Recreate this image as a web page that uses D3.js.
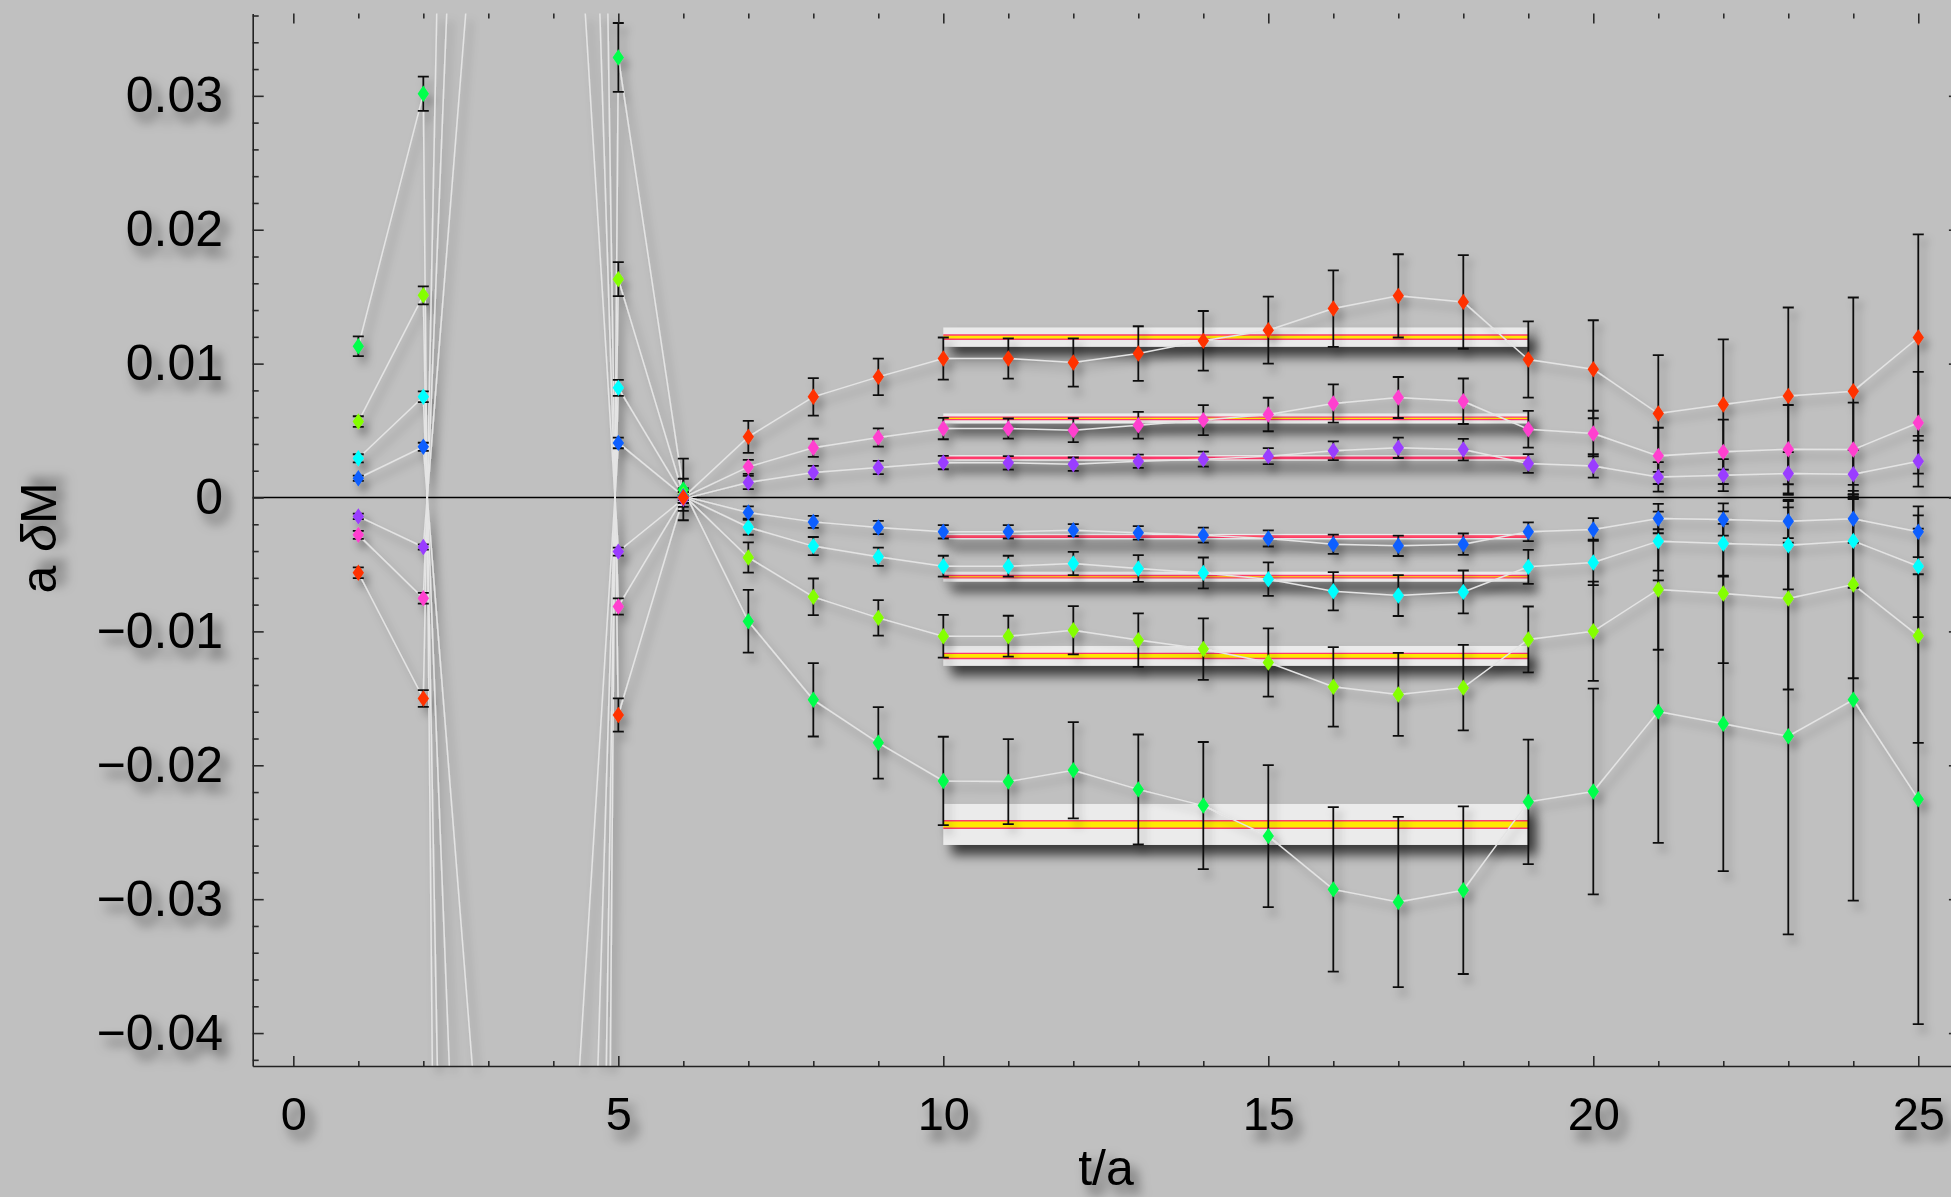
<!DOCTYPE html>
<html>
<head>
<meta charset="utf-8">
<script src="https://cdn.jsdelivr.net/npm/d3@7"></script>
<style>
  html, body { margin: 0; padding: 0; background: #c0c0c0; }
  svg { display: block; }
</style>
</head>
<body>
<svg id="chart"></svg>
<script>
// time slices
const tValues = d3.range(1, 26)

// central values per series (t = 1 .. 25); t = 3, 4 lie far off the frame
const greenValues = [0.0113, 0.03015, -0.495, -0.58, 0.03287, 0.0006, -0.00924, -0.01511, -0.01832, -0.02117, -0.02122, -0.02037, -0.0218, -0.02301, -0.02529, -0.02927, -0.03021, -0.02933, -0.02273, -0.02196, -0.01599, -0.0169, -0.01783, -0.01511, -0.02253]
const greenErrors = [0.00074, 0.00128, 0.01, 0.01, 0.00257, 0.0023, 0.00234, 0.00274, 0.00267, 0.0033, 0.00317, 0.0036, 0.0041, 0.00475, 0.0053, 0.00614, 0.00636, 0.00626, 0.00465, 0.00768, 0.0098, 0.011, 0.0148, 0.015, 0.0168]

const ygValues = [0.00567, 0.0151, -0.252, -0.302, 0.01631, 0.0002, -0.00448, -0.00742, -0.00899, -0.01036, -0.01036, -0.00991, -0.01065, -0.01132, -0.01232, -0.01414, -0.01471, -0.0142, -0.0106, -0.00999, -0.00687, -0.00717, -0.00754, -0.0065, -0.01033]
const ygErrors = [0.0004, 0.00067, 0.01, 0.01, 0.00127, 0.0012, 0.00113, 0.00137, 0.00133, 0.0016, 0.00153, 0.0018, 0.002, 0.0023, 0.00255, 0.00297, 0.0031, 0.0032, 0.00246, 0.0037, 0.0045, 0.0052, 0.0068, 0.007, 0.008]

const cyanValues = [0.00293, 0.00753, -0.1175, -0.153, 0.00819, 0.0001, -0.00222, -0.00363, -0.00443, -0.00513, -0.00513, -0.00493, -0.0053, -0.00563, -0.0061, -0.007, -0.00732, -0.00705, -0.00518, -0.00485, -0.00326, -0.00344, -0.00356, -0.00324, -0.00513]
const cyanErrors = [0.0003, 0.0004, 0.01, 0.01, 0.0006, 0.0005, 0.00056, 0.00068, 0.00068, 0.00078, 0.00078, 0.00087, 0.001, 0.00115, 0.00125, 0.00143, 0.00153, 0.0016, 0.00127, 0.0017, 0.0022, 0.0024, 0.0033, 0.0035, 0.0038]

const blueValues = [0.00144, 0.00379, -0.0576, -0.074, 0.00408, 0.0001, -0.00112, -0.00182, -0.00224, -0.00256, -0.00256, -0.00244, -0.00264, -0.00281, -0.00306, -0.00349, -0.00361, -0.00349, -0.00256, -0.00239, -0.00157, -0.00164, -0.00177, -0.00159, -0.00256]
const blueErrors = [0.0002, 0.0003, 0.01, 0.01, 0.0004, 0.0003, 0.00046, 0.00045, 0.0005, 0.0005, 0.0005, 0.00045, 0.0005, 0.00056, 0.0006, 0.00072, 0.00076, 0.0008, 0.0007, 0.00085, 0.0011, 0.0012, 0.0016, 0.0018, 0.0019]

const purpleValues = [-0.00141, -0.0037, 0.0574, 0.075, -0.00404, -0.0001, 0.00112, 0.00187, 0.00224, 0.00261, 0.00259, 0.00249, 0.00271, 0.00286, 0.00309, 0.00349, 0.00371, 0.00358, 0.00254, 0.00236, 0.00154, 0.00167, 0.00179, 0.00174, 0.00271]
const purpleErrors = [0.0002, 0.0002, 0.01, 0.01, 0.0003, 0.0003, 0.0005, 0.0005, 0.0005, 0.0005, 0.0005, 0.0005, 0.0005, 0.00056, 0.0006, 0.0007, 0.00076, 0.0008, 0.0007, 0.00088, 0.0011, 0.0012, 0.0016, 0.0018, 0.0019]

const magentaValues = [-0.00279, -0.00753, 0.1138, 0.148, -0.00814, 0.0, 0.00229, 0.00371, 0.00448, 0.00515, 0.00515, 0.00503, 0.0054, 0.00578, 0.0062, 0.00702, 0.00747, 0.00719, 0.0051, 0.00478, 0.00311, 0.00341, 0.00361, 0.00358, 0.00558]
const magentaErrors = [0.0003, 0.0004, 0.01, 0.01, 0.0006, 0.0004, 0.00052, 0.00068, 0.00068, 0.0008, 0.00075, 0.0009, 0.001, 0.00112, 0.00125, 0.00143, 0.00153, 0.0017, 0.00137, 0.0017, 0.0021, 0.0024, 0.0033, 0.0035, 0.0038]

const redValues = [-0.00562, -0.01501, 0.233, 0.31, -0.01624, 0.0, 0.00453, 0.00752, 0.00901, 0.01038, 0.01038, 0.01008, 0.01075, 0.0117, 0.0125, 0.01411, 0.01506, 0.01461, 0.01031, 0.00958, 0.00627, 0.00695, 0.00759, 0.00794, 0.01195]
const redErrors = [0.0004, 0.00063, 0.01, 0.01, 0.00124, 0.0007, 0.0012, 0.0014, 0.00137, 0.00157, 0.0015, 0.0018, 0.00204, 0.00223, 0.0025, 0.00286, 0.00311, 0.0035, 0.00285, 0.00366, 0.00436, 0.00486, 0.0066, 0.007, 0.0077]

const seriesColors = ['#00ff4c', '#84ff00', '#00ffff', '#0a5fff', '#9a3cff', '#ff40cf', '#ff3300']

// plateau fits over t = 10 .. 19 (same series order)
const fitRange = [10, 19]
const fitCenters = [-0.02442, -0.01183, -0.00591, -0.00292, 0.00296, 0.00591, 0.01198]
const fitInner = [0.00028, 0.00019, 0.00009, 0.00005, 0.00005, 0.00009, 0.00016]
const fitOuter = [0.00153, 0.00074, 0.00037, 0.0002, 0.00021, 0.00037, 0.00072]

// axis ticks
const xTicks = [0, 5, 10, 15, 20, 25]
const xMinorTicks = d3.range(0, 26).filter((t) => t % 5 !== 0)
const yTicks = [-0.04, -0.03, -0.02, -0.01, 0, 0.01, 0.02, 0.03]
const yMinorTicks = d3.range(-42, 37, 2).filter((v) => v % 10 !== 0).map((v) => v / 1000)

const W = 1951
const H = 1197

const x = d3.scaleLinear().domain([-0.625, 25.625]).range([252.7, 1958.9])
const y = d3.scaleLinear().domain([-0.04246, 0.03615]).range([1066, 13.5])

const svg = d3.select('#chart').attr('width', W).attr('height', H)
svg.append('rect').attr('width', W).attr('height', H).attr('fill', '#c0c0c0')

const defs = svg.append('defs')
defs
  .append('clipPath')
  .attr('id', 'plot-clip')
  .append('rect')
  .attr('x', x.range()[0])
  .attr('y', y.range()[1])
  .attr('width', x.range()[1] - x.range()[0])
  .attr('height', y.range()[0] - y.range()[1])

function addShadow(id, dx, dy, sd, op, userSpace) {
  const f = defs.append('filter').attr('id', id)
  if (userSpace) {
    f.attr('filterUnits', 'userSpaceOnUse')
      .attr('x', 0)
      .attr('y', 0)
      .attr('width', W)
      .attr('height', H)
  } else {
    f.attr('x', '-60%').attr('y', '-60%').attr('width', '220%').attr('height', '220%')
  }
  f.append('feDropShadow')
    .attr('dx', dx)
    .attr('dy', dy)
    .attr('stdDeviation', sd)
    .attr('flood-color', '#000')
    .attr('flood-opacity', op)
}
addShadow('shadow-data', 5, 7, 4, 0.35, true)
addShadow('shadow-band', 8, 10, 6, 0.7, true)
addShadow('shadow-text', 7, 9, 6, 0.55, false)

const font = '"Liberation Sans", Arial, Helvetica, sans-serif'

// zero line
svg
  .append('line')
  .attr('x1', x.range()[0])
  .attr('x2', x.range()[1])
  .attr('y1', y(0))
  .attr('y2', y(0))
  .attr('stroke', '#000')
  .attr('stroke-width', 1.3)

// fit bands
const bands = svg.append('g').attr('clip-path', 'url(#plot-clip)')
fitCenters.forEach((c, i) => {
  bands
    .append('rect')
    .attr('x', x(fitRange[0]))
    .attr('width', x(fitRange[1]) - x(fitRange[0]))
    .attr('y', y(c + fitOuter[i]))
    .attr('height', y(c - fitOuter[i]) - y(c + fitOuter[i]))
    .attr('fill', '#ebebeb')
    .attr('filter', 'url(#shadow-band)')
  bands
    .append('rect')
    .attr('x', x(fitRange[0]))
    .attr('width', x(fitRange[1]) - x(fitRange[0]))
    .attr('y', y(c + fitInner[i]))
    .attr('height', y(c - fitInner[i]) - y(c + fitInner[i]))
    .attr('fill', '#ffe800')
  ;[c + fitInner[i], c - fitInner[i]].forEach((v) => {
    bands
      .append('line')
      .attr('x1', x(fitRange[0]))
      .attr('x2', x(fitRange[1]))
      .attr('y1', y(v))
      .attr('y2', y(v))
      .attr('stroke', '#ff3a6c')
      .attr('stroke-width', 1.4)
  })
})

// data
const series = [
  [greenValues, greenErrors],
  [ygValues, ygErrors],
  [cyanValues, cyanErrors],
  [blueValues, blueErrors],
  [purpleValues, purpleErrors],
  [magentaValues, magentaErrors],
  [redValues, redErrors],
].map(([vals, errs], i) => ({
  color: seriesColors[i],
  points: tValues.map((t, j) => ({ t, v: vals[j], e: errs[j] })),
}))

const dataOuter = svg.append('g').attr('filter', 'url(#shadow-data)')
const data = dataOuter.append('g').attr('clip-path', 'url(#plot-clip)')

const line = d3
  .line()
  .x((d) => x(d.t))
  .y((d) => y(d.v))

data
  .selectAll('.conn')
  .data(series)
  .enter()
  .append('path')
  .attr('class', 'conn')
  .attr('d', (s) => line(s.points))
  .attr('fill', 'none')
  .attr('stroke', '#e4e4e4')
  .attr('stroke-width', 1.5)

const capW = 5.5
series.forEach((s) => {
  const g = data.append('g')
  const bars = g
    .selectAll('.bar')
    .data(s.points)
    .enter()
    .append('g')
    .attr('class', 'bar')
    .attr('stroke', '#111')
    .attr('stroke-width', 1.8)
  bars
    .append('line')
    .attr('x1', (d) => x(d.t))
    .attr('x2', (d) => x(d.t))
    .attr('y1', (d) => y(d.v + d.e))
    .attr('y2', (d) => y(d.v - d.e))
  bars
    .append('line')
    .attr('x1', (d) => x(d.t) - capW)
    .attr('x2', (d) => x(d.t) + capW)
    .attr('y1', (d) => y(d.v + d.e))
    .attr('y2', (d) => y(d.v + d.e))
  bars
    .append('line')
    .attr('x1', (d) => x(d.t) - capW)
    .attr('x2', (d) => x(d.t) + capW)
    .attr('y1', (d) => y(d.v - d.e))
    .attr('y2', (d) => y(d.v - d.e))
})

const diamond = d3.symbol(d3.symbolDiamond).size(78)
series.forEach((s) => {
  data
    .append('g')
    .selectAll('path')
    .data(s.points)
    .enter()
    .append('path')
    .attr('d', diamond)
    .attr('transform', (d) => `translate(${x(d.t)},${y(d.v)}) scale(1.2,1)`)
    .attr('fill', s.color)
})

// axes
function styleAxis(g, withText) {
  g.attr('font-family', font)
  g.select('.domain').attr('stroke', '#222').attr('stroke-width', 1.6)
  g.selectAll('.tick line').attr('stroke', '#2a2a2a').attr('stroke-width', 1.6)
  if (withText) {
    g.selectAll('.tick text').attr('fill', '#000').attr('filter', 'url(#shadow-text)')
  }
}

const yFormat = (v) => (v === 0 ? '0' : d3.format('.2f')(v))

const gxMinor = svg
  .append('g')
  .attr('transform', `translate(0,${y.range()[0]})`)
  .call(d3.axisBottom(x).tickValues(xMinorTicks).tickSize(-5).tickFormat(''))
gxMinor.select('.domain').remove()
styleAxis(gxMinor, false)

const gx = svg
  .append('g')
  .attr('transform', `translate(0,${y.range()[0]})`)
  .call(
    d3
      .axisBottom(x)
      .tickValues(xTicks)
      .tickSize(-10)
      .tickSizeOuter(0)
      .tickPadding(31)
      .tickFormat(d3.format('d'))
  )
  .attr('font-size', 47)
styleAxis(gx, true)

const gTopMinor = svg
  .append('g')
  .attr('transform', `translate(0,${y.range()[1]})`)
  .call(d3.axisTop(x).tickValues(xMinorTicks).tickSize(-5).tickFormat(''))
gTopMinor.select('.domain').remove()
styleAxis(gTopMinor, false)

const gTop = svg
  .append('g')
  .attr('transform', `translate(0,${y.range()[1]})`)
  .call(d3.axisTop(x).tickValues(xTicks).tickSize(-10).tickFormat(''))
gTop.select('.domain').remove()
styleAxis(gTop, false)

const gyMinor = svg
  .append('g')
  .attr('transform', `translate(${x.range()[0]},0)`)
  .call(d3.axisLeft(y).tickValues(yMinorTicks).tickSize(-6).tickFormat(''))
gyMinor.select('.domain').remove()
styleAxis(gyMinor, false)

const gy = svg
  .append('g')
  .attr('transform', `translate(${x.range()[0]},0)`)
  .call(
    d3
      .axisLeft(y)
      .tickValues(yTicks)
      .tickSize(-11)
      .tickSizeOuter(0)
      .tickPadding(29.7)
      .tickFormat(yFormat)
  )
  .attr('font-size', 50)
styleAxis(gy, true)

const gRight = svg
  .append('g')
  .attr('transform', `translate(${x.range()[1]},0)`)
  .call(d3.axisRight(y).tickValues(yTicks).tickSize(-10).tickFormat(''))
gRight.select('.domain').remove()
styleAxis(gRight, false)

// axis labels
const yLabel = svg
  .append('text')
  .attr('transform', 'translate(56,538) rotate(-90)')
  .attr('text-anchor', 'middle')
  .attr('font-family', font)
  .attr('font-size', 50)
  .attr('filter', 'url(#shadow-text)')
yLabel.append('tspan').text('a ')
yLabel.append('tspan').attr('font-style', 'italic').text('δ')
yLabel.append('tspan').text('M')

svg
  .append('text')
  .attr('x', 1106)
  .attr('y', 1185)
  .attr('text-anchor', 'middle')
  .attr('font-family', font)
  .attr('font-size', 50)
  .attr('filter', 'url(#shadow-text)')
  .text('t/a')
</script>
</body>
</html>
